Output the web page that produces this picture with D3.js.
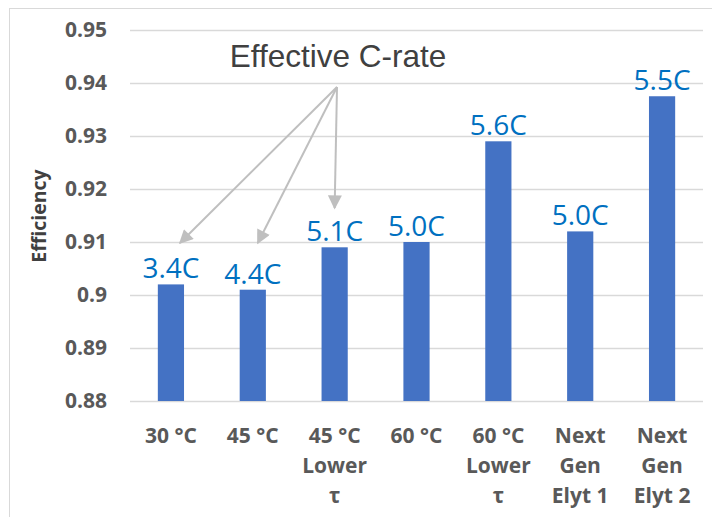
<!DOCTYPE html>
<html>
<head>
<meta charset="utf-8">
<script src="https://cdn.jsdelivr.net/npm/d3@7"></script>
<style>
    body { margin: 0; background: #fff; }
    svg { display: block; }
</style>
</head>
<body>
<div id="chart"></div>
<script>
var categories = [
    ['30 °C'],
    ['45 °C'],
    ['45 °C', 'Lower', 'τ'],
    ['60 °C'],
    ['60 °C', 'Lower', 'τ'],
    ['Next', 'Gen', 'Elyt 1'],
    ['Next', 'Gen', 'Elyt 2']
];
var efficiency = [0.902, 0.901, 0.909, 0.910, 0.929, 0.912, 0.9375];
var cRates = ['3.4C', '4.4C', '5.1C', '5.0C', '5.6C', '5.0C', '5.5C'];
var yTicks = [0.88, 0.89, 0.9, 0.91, 0.92, 0.93, 0.94, 0.95];
var annotation = 'Effective C-rate';
var arrowTargets = [0, 1, 2];

var width = 712, height = 517;
var margin = {top: 30, right: 9, bottom: 116, left: 130};
var plotW = width - margin.left - margin.right;
var plotH = height - margin.top - margin.bottom;

var svg = d3.select('#chart').append('svg')
    .attr('width', width)
    .attr('height', height);

// chart frame
svg.append('rect')
    .attr('x', 9.5).attr('y', 8.5)
    .attr('width', width).attr('height', height)
    .attr('fill', 'none')
    .attr('stroke', '#d9d9d9');

var g = svg.append('g')
    .attr('transform', 'translate(' + margin.left + ',' + margin.top + ')');

var ids = d3.range(categories.length);

var xScale = d3.scaleBand()
    .domain(ids)
    .range([0, plotW])
    .paddingInner(0.68)
    .paddingOuter(0.34);

var yScale = d3.scaleLinear()
    .domain([0.88, 0.95])
    .range([plotH, 0]);

// gridlines
g.selectAll('.grid')
    .data(yTicks)
    .enter()
    .append('line')
    .attr('x1', 0).attr('x2', plotW)
    .attr('y1', function(d) { return Math.round(yScale(d)) + 0.5; })
    .attr('y2', function(d) { return Math.round(yScale(d)) + 0.5; })
    .attr('stroke', '#d9d9d9')
    .attr('stroke-width', 1.5);

// y tick labels
var yAxis = g.append('g')
    .call(d3.axisLeft(yScale).tickValues(yTicks).tickSize(0).tickPadding(23)
        .tickFormat(function(d) { return String(+d.toFixed(2)); }));
yAxis.select('.domain').remove();
yAxis.selectAll('text')
    .attr('font-family', '"Open Sans", sans-serif')
    .attr('font-weight', 'bold')
    .attr('font-size', 21)
    .attr('fill', '#595959');

// axis title
svg.append('text')
    .attr('transform', 'translate(46,216) rotate(-90)')
    .attr('text-anchor', 'middle')
    .attr('font-family', '"Open Sans", sans-serif')
    .attr('font-weight', 'bold')
    .attr('font-size', 19.5)
    .attr('fill', '#404040')
    .text('Efficiency');

// bars
g.selectAll('.bar')
    .data(efficiency)
    .enter()
    .append('rect')
    .attr('x', function(d, i) { return xScale(i); })
    .attr('width', xScale.bandwidth())
    .attr('y', function(d) { return yScale(d); })
    .attr('height', function(d) { return plotH - yScale(d); })
    .attr('fill', '#4472c4');

// value labels
g.selectAll('.val')
    .data(efficiency)
    .enter()
    .append('text')
    .attr('x', function(d, i) { return xScale(i) + xScale.bandwidth() / 2; })
    .attr('y', function(d) { return yScale(d) - 6; })
    .attr('text-anchor', 'middle')
    .attr('font-family', '"Open Sans", sans-serif')
    .attr('font-size', 28)
    .attr('fill', '#0070c0')
    .text(function(d, i) { return cRates[i]; });

// category labels
var xLabels = g.selectAll('.cat')
    .data(categories)
    .enter()
    .append('text')
    .attr('text-anchor', 'middle')
    .attr('font-family', '"Open Sans", sans-serif')
    .attr('font-weight', 'bold')
    .attr('font-size', 21)
    .attr('fill', '#595959');

xLabels.selectAll('tspan')
    .data(function(d, i) { return d.map(function(s) { return {s: s, i: i}; }); })
    .enter()
    .append('tspan')
    .attr('x', function(d) { return xScale(d.i) + xScale.bandwidth() / 2; })
    .attr('y', function(d, j) { return plotH + 42 + j * 30; })
    .text(function(d) { return d.s; });

// annotation with arrows
var defs = svg.append('defs');
defs.append('marker')
    .attr('id', 'arrow')
    .attr('viewBox', '0 0 10 10')
    .attr('refX', 9).attr('refY', 5)
    .attr('markerWidth', 8).attr('markerHeight', 7)
    .attr('markerUnits', 'strokeWidth')
    .attr('orient', 'auto')
    .append('path')
    .attr('d', 'M0,0 L10,5 L0,10 z')
    .attr('fill', '#bfbfbf');

svg.append('text')
    .attr('x', 338).attr('y', 67)
    .attr('text-anchor', 'middle')
    .attr('font-family', '"Liberation Sans", Arial, sans-serif')
    .attr('font-size', 31.5)
    .attr('fill', '#404040')
    .text(annotation);

var origin = [337, 87];
var tipY = [243, 243, 208];
var tipDx = [9, 5, 0];

svg.selectAll('.arrow')
    .data(arrowTargets)
    .enter()
    .append('line')
    .attr('x1', origin[0]).attr('y1', origin[1])
    .attr('x2', function(d, i) { return margin.left + xScale(d) + xScale.bandwidth() / 2 + tipDx[i]; })
    .attr('y2', function(d, i) { return tipY[i]; })
    .attr('stroke', '#bfbfbf')
    .attr('stroke-width', 2)
    .attr('marker-end', 'url(#arrow)');
</script>
</body>
</html>
